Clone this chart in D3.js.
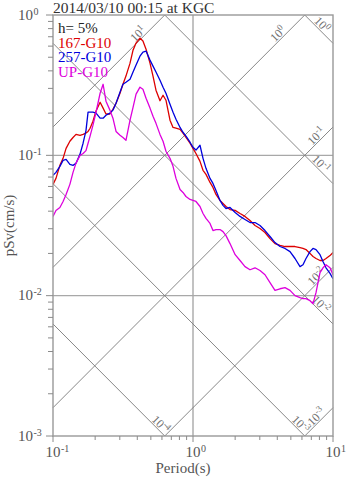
<!DOCTYPE html>
<html>
<head>
<meta charset="utf-8">
<script src="https://cdn.jsdelivr.net/npm/d3@7"></script>
<style>
  html, body { margin: 0; padding: 0; background: #fff; }
  svg { display: block; }
  text { font-family: "Liberation Serif", "DejaVu Serif", serif; }
</style>
</head>
<body>
<svg id="chart" width="347" height="478"></svg>
<script>
// Pseudo-velocity response spectra (h = 5%), tripartite log-log layout.
const periods = [0.100,0.105,0.112,0.118,0.124,0.132,0.139,0.146,0.156,0.164,
  0.172,0.178,0.184,0.193,0.203,0.217,0.228,0.239,0.255,0.268,
  0.282,0.301,0.316,0.332,0.355,0.373,0.392,0.418,0.439,0.462,
  0.493,0.518,0.544,0.581,0.611,0.641,0.685,0.720,0.756,0.808,
  0.848,0.891,0.952,1.000,1.050,1.122,1.179,1.238,1.323,1.389,
  1.459,1.559,1.638,1.721,1.838,2.000,2.167,2.352,2.554,2.773,
  3.010,3.268,3.548,3.852,4.183,4.541,4.931,5.354,5.812,6.105,
  6.414,6.850,7.197,7.561,8.075,8.483,8.913,9.519,10.00];

const psv167 = [0.0621,0.0685,0.0848,0.0952,0.112,0.126,0.134,0.141,0.139,0.141,
  0.144,0.148,0.156,0.175,0.207,0.239,0.217,0.197,0.197,0.213,
  0.235,0.277,0.321,0.367,0.454,0.562,0.631,0.685,0.652,0.571,
  0.454,0.367,0.291,0.245,0.268,0.247,0.178,0.158,0.156,0.153,
  0.144,0.134,0.122,0.112,0.103,0.0906,0.0782,0.0732,0.0641,0.0591,
  0.0526,0.0477,0.0454,0.0432,0.0411,0.0405,0.0385,0.0367,0.0343,0.0316,
  0.0301,0.0282,0.0255,0.0235,0.0228,0.0224,0.0224,0.0224,0.0220,0.0217,
  0.0213,0.0200,0.0190,0.0184,0.0178,0.0178,0.0184,0.0193,0.0203];

const psv257 = [0.0720,0.0756,0.0835,0.0921,0.0936,0.0862,0.0848,0.0877,0.102,0.122,
  0.150,0.203,0.203,0.203,0.200,0.184,0.184,0.193,0.200,0.210,
  0.235,0.282,0.321,0.332,0.349,0.392,0.440,0.509,0.544,0.553,
  0.477,0.432,0.392,0.343,0.306,0.277,0.231,0.203,0.181,0.158,
  0.146,0.137,0.124,0.114,0.109,0.118,0.0952,0.0808,0.0685,0.0631,
  0.0562,0.0477,0.0440,0.0418,0.0425,0.0392,0.0367,0.0349,0.0332,0.0332,
  0.0316,0.0291,0.0264,0.0239,0.0224,0.0217,0.0206,0.0184,0.0161,0.0166,
  0.0184,0.0206,0.0217,0.0213,0.0196,0.0175,0.0158,0.0144,0.0132];

const psvUP = [0.0367,0.0405,0.0425,0.0469,0.0526,0.0621,0.0756,0.0880,0.100,0.103,
  0.108,0.122,0.137,0.164,0.203,0.277,0.321,0.243,0.210,0.184,
  0.148,0.139,0.134,0.128,0.178,0.220,0.273,0.306,0.296,0.255,
  0.217,0.190,0.169,0.141,0.126,0.107,0.0952,0.0835,0.0685,0.0571,
  0.0544,0.0509,0.0485,0.0477,0.0469,0.0432,0.0385,0.0355,0.0327,0.0291,
  0.0296,0.0296,0.0286,0.0268,0.0235,0.0196,0.0178,0.0161,0.0153,0.0158,
  0.0151,0.0141,0.0124,0.0109,0.0112,0.0114,0.0109,0.0100,0.00968,0.00952,
  0.00952,0.00921,0.00877,0.0105,0.0146,0.0158,0.0166,0.0158,0.0141];

const seriesNames = ["167-G10", "257-G10", "UP-G10"];
const seriesColors = ["#dd0000", "#0000dd", "#dd00dd"];

// Constant pseudo-acceleration (cm/s^2) and displacement (cm) guide lines.
const accelLevels = [10, 1, 0.1, 0.01, 0.001];
const dispLevels = [1, 0.1, 0.01, 0.001, 0.0001];

const xTickExps = [-1, 0, 1];
const yTickExps = [0, -1, -2, -3];
const titleText = "2014/03/10 00:15 at KGC";
const dampingText = "h= 5%";
const xLabel = "Period(s)";
const yLabel = "pSv(cm/s)";

const box = { left: 53, top: 15, right: 333, bottom: 436 };
const TWO_PI = 2 * Math.PI;
const Tmin = 0.1, Tmax = 10, Vmin = 0.001, Vmax = 1;

const x = d3.scaleLog().domain([Tmin, Tmax]).range([box.left, box.right]);
const y = d3.scaleLog().domain([Vmin, Vmax]).range([box.bottom, box.top]);

const svg = d3.select("#chart");

svg.append("defs").append("clipPath").attr("id", "plotClip")
  .append("rect")
  .attr("x", box.left).attr("y", box.top)
  .attr("width", box.right - box.left).attr("height", box.bottom - box.top);

// Decade grid lines
const grid = svg.append("g").attr("stroke", "#a8a8a8").attr("stroke-width", 1.4);
grid.append("line").attr("x1", x(1)).attr("x2", x(1)).attr("y1", box.top).attr("y2", box.bottom);
[0.1, 0.01].forEach(v => {
  grid.append("line").attr("x1", box.left).attr("x2", box.right).attr("y1", y(v)).attr("y2", y(v));
});

// Diagonal guides, each clipped to the plotting box analytically
const diag = svg.append("g");
const labelG = svg.append("g").attr("fill", "#707070").attr("font-size", 12);

function supLabel(g, exp, px, py, angle, anchor) {
  const t = g.append("text")
    .attr("transform", `translate(${px},${py}) rotate(${angle})`)
    .attr("text-anchor", anchor)
    .attr("dy", -1.5);
  t.append("tspan").text("10");
  t.append("tspan").attr("font-size", 9).attr("dy", -4.5).text(String(exp));
}

accelLevels.forEach(a => {
  const v = T => a * T / TWO_PI;
  const tAt = V => TWO_PI * V / a;
  const t0 = Math.max(Tmin, tAt(Vmin));
  const t1 = Math.min(Tmax, tAt(Vmax));
  diag.append("line")
    .attr("x1", x(t0)).attr("y1", y(v(t0)))
    .attr("x2", x(t1)).attr("y2", y(v(t1)))
    .attr("stroke", "#7a7a7a").attr("stroke-width", 0.9);
  const back = t1 < Tmax ? 17 : 6;
  const ex = x(t1) - back, ey = y(v(t1)) + back;
  supLabel(labelG, Math.round(Math.log10(a)), ex, ey, -45, "end");
});

dispLevels.forEach(d => {
  const v = T => TWO_PI * d / T;
  const tAt = V => TWO_PI * d / V;
  const t0 = Math.max(Tmin, tAt(Vmax));
  const t1 = Math.min(Tmax, tAt(Vmin));
  diag.append("line")
    .attr("x1", x(t0)).attr("y1", y(v(t0)))
    .attr("x2", x(t1)).attr("y2", y(v(t1)))
    .attr("stroke", "#7a7a7a").attr("stroke-width", 0.9);
  const back = t1 < Tmax ? 1 : 9;
  const ex = x(t1) - back, ey = y(v(t1)) - back;
  supLabel(labelG, Math.round(Math.log10(d)), ex, ey, 45, "end");
});

// Spectra
const line = d3.line().x(d => x(d[0])).y(d => y(d[1]));
const curves = svg.append("g").attr("clip-path", "url(#plotClip)");
[psv167, psv257, psvUP].forEach((vals, i) => {
  curves.append("path")
    .datum(periods.map((p, k) => [p, vals[k]]))
    .attr("d", line)
    .attr("fill", "none")
    .attr("stroke", seriesColors[i])
    .attr("stroke-width", 1.3)
    .attr("stroke-linejoin", "round");
});

// Frame
svg.append("rect")
  .attr("x", box.left).attr("y", box.top)
  .attr("width", box.right - box.left).attr("height", box.bottom - box.top)
  .attr("fill", "none").attr("stroke", "#999").attr("stroke-width", 1.4);

// Axis ticks (outward, log minor ticks)
function logTicks(lo, hi) {
  const out = [];
  for (let e = Math.floor(Math.log10(lo)); e < Math.ceil(Math.log10(hi)) + 1; e++) {
    for (let k = 1; k <= 9; k++) {
      const v = k * Math.pow(10, e);
      if (v >= lo * 0.999 && v <= hi * 1.001) out.push({ v, major: k === 1 });
    }
  }
  return out;
}
const ticks = svg.append("g").attr("stroke", "#8a8a8a").attr("stroke-width", 1);
logTicks(Vmin, Vmax).forEach(t => {
  ticks.append("line").attr("x1", box.left).attr("x2", box.left - (t.major ? 7 : 5))
    .attr("y1", y(t.v)).attr("y2", y(t.v));
});
logTicks(Tmin, Tmax).forEach(t => {
  ticks.append("line").attr("y1", box.bottom).attr("y2", box.bottom + (t.major ? 6 : 4))
    .attr("x1", x(t.v)).attr("x2", x(t.v));
});

// Tick labels
const tickLab = svg.append("g").attr("fill", "#555").attr("font-size", 15);
yTickExps.forEach(e => {
  const py = y(Math.pow(10, e));
  tickLab.append("text").attr("x", 33).attr("y", py + 4.5).attr("text-anchor", "end").text("10");
  tickLab.append("text").attr("x", 33.5).attr("y", py - 0.5).attr("font-size", 10).text(String(e));
});
xTickExps.forEach(e => {
  const px = x(Math.pow(10, e));
  tickLab.append("text").attr("x", px).attr("y", 456.5).attr("text-anchor", "middle").text("10");
  tickLab.append("text").attr("x", px + 8).attr("y", 451.5).attr("font-size", 10).text(String(e));
});

// Axis titles
svg.append("text").attr("x", 183).attr("y", 473).attr("text-anchor", "middle")
  .attr("fill", "#555").attr("font-size", 15).text(xLabel);
svg.append("text")
  .attr("transform", `translate(14,${(box.top + box.bottom) / 2}) rotate(-90)`)
  .attr("text-anchor", "middle").attr("fill", "#555").attr("font-size", 15).text(yLabel);

// Title
svg.append("text").attr("x", 53).attr("y", 12.5).attr("fill", "#333").attr("font-size", 15.5)
  .text(titleText);

// Legend
const legend = svg.append("g").attr("font-size", 15);
legend.append("text").attr("x", 58).attr("y", 33).attr("fill", "#222").text(dampingText);
seriesNames.forEach((n, i) => {
  legend.append("text").attr("x", 58).attr("y", 47.5 + i * 14.8)
    .attr("fill", seriesColors[i]).text(n);
});
</script>
</body>
</html>
